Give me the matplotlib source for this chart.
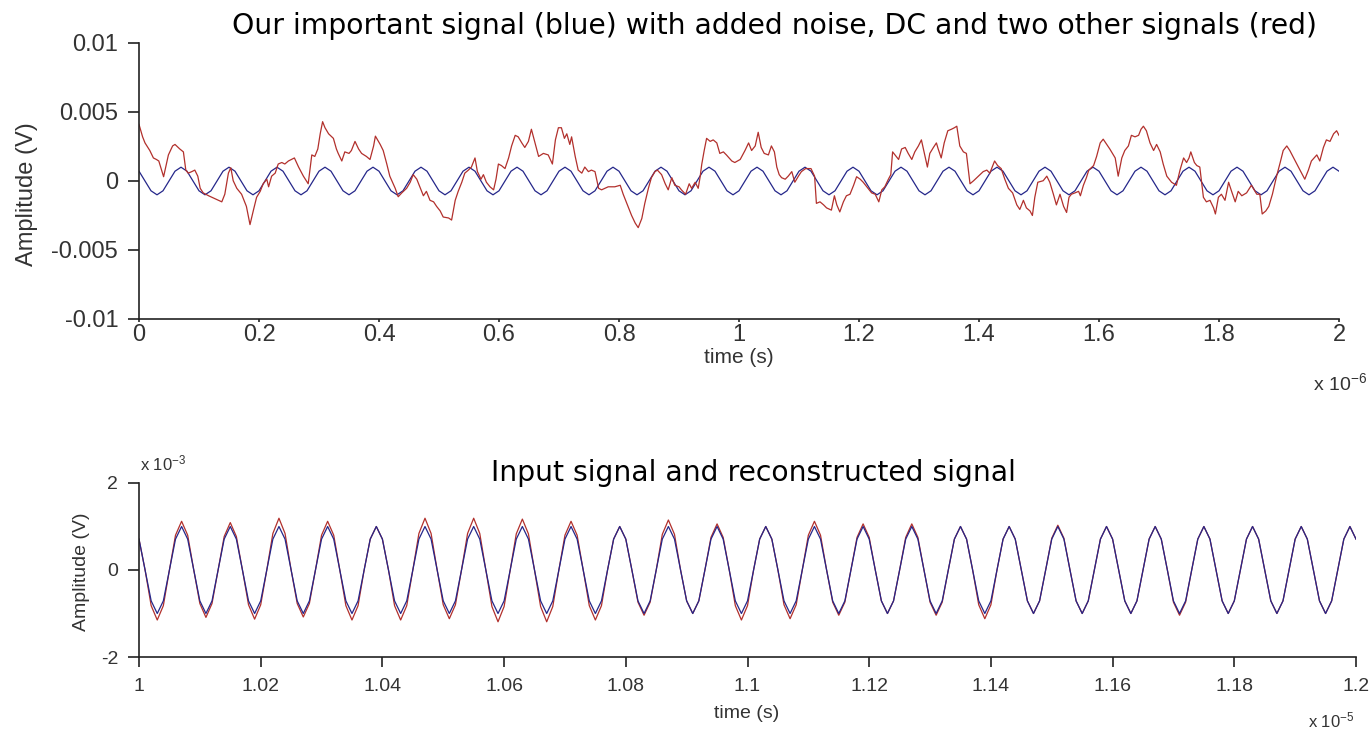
import numpy as np
import matplotlib
matplotlib.use("Agg")
import matplotlib.pyplot as plt

plt.rcParams['axes.unicode_minus'] = False
plt.rcParams['mathtext.default'] = 'regular'

# ---- top plot: time in microseconds, amplitude in mV ----
top_t = np.linspace(0, 2, 201)
top_blue_mv = [
    0.71, 0, -0.71, -1, -0.71, 0, 0.71, 1, 0.71, 0, -0.71, -1, -0.71, 0, 0.71, 1,
    0.71, 0, -0.71, -1, -0.71, 0, 0.71, 1, 0.71, 0, -0.71, -1, -0.71, 0, 0.71, 1,
    0.71, 0, -0.71, -1, -0.71, 0, 0.71, 1, 0.71, 0, -0.71, -1, -0.71, 0, 0.71, 1,
    0.71, 0, -0.71, -1, -0.71, 0, 0.71, 1, 0.71, 0, -0.71, -1, -0.71, 0, 0.71, 1,
    0.71, 0, -0.71, -1, -0.71, 0, 0.71, 1, 0.71, 0, -0.71, -1, -0.71, 0, 0.71, 1,
    0.71, 0, -0.71, -1, -0.71, 0, 0.71, 1, 0.71, 0, -0.71, -1, -0.71, 0, 0.71, 1,
    0.71, 0, -0.71, -1, -0.71, 0, 0.71, 1, 0.71, 0, -0.71, -1, -0.71, 0, 0.71, 1,
    0.71, 0, -0.71, -1, -0.71, 0, 0.71, 1, 0.71, 0, -0.71, -1, -0.71, 0, 0.71, 1,
    0.71, 0, -0.71, -1, -0.71, 0, 0.71, 1, 0.71, 0, -0.71, -1, -0.71, 0, 0.71, 1,
    0.71, 0, -0.71, -1, -0.71, 0, 0.71, 1, 0.71, 0, -0.71, -1, -0.71, 0, 0.71, 1,
    0.71, 0, -0.71, -1, -0.71, 0, 0.71, 1, 0.71, 0, -0.71, -1, -0.71, 0, 0.71, 1,
    0.71, 0, -0.71, -1, -0.71, 0, 0.71, 1, 0.71, 0, -0.71, -1, -0.71, 0, 0.71, 1,
    0.71, 0, -0.71, -1, -0.71, 0, 0.71, 1, 0.71,
]

red_t = [
    0.000, 0.006, 0.010, 0.018, 0.024, 0.029, 0.033, 0.041, 0.049, 0.056,
    0.060, 0.068, 0.074, 0.078, 0.082, 0.088, 0.093, 0.098, 0.102, 0.107,
    0.116, 0.127, 0.138, 0.143, 0.149, 0.153, 0.157, 0.163, 0.171, 0.179,
    0.185, 0.191, 0.196, 0.202, 0.207, 0.213, 0.216, 0.221, 0.227, 0.232,
    0.238, 0.243, 0.249, 0.254, 0.259, 0.266, 0.274, 0.282, 0.288, 0.293,
    0.298, 0.302, 0.306, 0.310, 0.316, 0.324, 0.329,
    0.332, 0.338, 0.343, 0.350, 0.354, 0.360, 0.366, 0.371, 0.379, 0.385,
    0.391, 0.394, 0.402, 0.407, 0.413, 0.418, 0.427, 0.432, 0.438, 0.446,
    0.452, 0.457, 0.463, 0.468, 0.474, 0.479, 0.485, 0.491, 0.496, 0.502,
    0.507, 0.516, 0.521, 0.527, 0.532, 0.538, 0.543, 0.549, 0.554, 0.560,
    0.564, 0.570, 0.574, 0.579, 0.585, 0.591, 0.595, 0.599, 0.604, 0.610,
    0.616, 0.621, 0.627, 0.632, 0.638, 0.643, 0.649, 0.654, 0.660,
    0.666, 0.674, 0.682, 0.689, 0.694, 0.699, 0.704, 0.709, 0.713, 0.718,
    0.721, 0.727, 0.732, 0.738, 0.743, 0.749, 0.754, 0.760, 0.766, 0.771,
    0.782, 0.793, 0.802, 0.807, 0.813, 0.821, 0.827, 0.832, 0.838, 0.843,
    0.849, 0.854, 0.860, 0.864, 0.871, 0.877, 0.882, 0.888, 0.893, 0.900,
    0.904, 0.911, 0.917, 0.921, 0.927, 0.932, 0.935, 0.938, 0.942, 0.946,
    0.952, 0.957, 0.963, 0.968, 0.974, 0.979, 0.988, 0.993,
    1.002, 1.010, 1.016, 1.021, 1.027, 1.032, 1.037, 1.042, 1.049, 1.054,
    1.059, 1.063, 1.067, 1.071, 1.077, 1.082, 1.088, 1.093, 1.099, 1.104,
    1.111, 1.120, 1.126, 1.129, 1.135, 1.141, 1.146, 1.154, 1.159, 1.163,
    1.168, 1.174, 1.179, 1.185, 1.191, 1.196, 1.202, 1.207, 1.213, 1.221,
    1.227, 1.233, 1.238, 1.243, 1.249, 1.253, 1.256, 1.260, 1.266, 1.271,
    1.277, 1.282, 1.288, 1.293, 1.299, 1.304, 1.310, 1.314, 1.318, 1.324,
    1.329,
    1.332, 1.337, 1.342, 1.348, 1.354, 1.359, 1.363, 1.368, 1.374, 1.379,
    1.385, 1.391, 1.399, 1.407, 1.413, 1.418, 1.426, 1.431, 1.437, 1.443,
    1.449, 1.456, 1.463, 1.468, 1.474, 1.479, 1.485, 1.489, 1.493, 1.498,
    1.507, 1.513, 1.518, 1.524, 1.529, 1.535, 1.541, 1.546, 1.550, 1.554,
    1.560, 1.566, 1.569, 1.574, 1.579, 1.583, 1.591, 1.596, 1.602, 1.607,
    1.613, 1.618, 1.627, 1.632, 1.638, 1.643, 1.649, 1.654, 1.660,
    1.666, 1.670, 1.674, 1.679, 1.685, 1.691, 1.696, 1.702, 1.707, 1.713,
    1.721, 1.729, 1.735, 1.741, 1.746, 1.750, 1.753, 1.759, 1.763, 1.768,
    1.774, 1.779, 1.785, 1.791, 1.794, 1.799, 1.804, 1.810, 1.816, 1.821,
    1.827, 1.832, 1.838, 1.846, 1.854, 1.863, 1.868, 1.872, 1.878, 1.883,
    1.889, 1.896, 1.902, 1.907, 1.913, 1.918, 1.927, 1.935, 1.943, 1.949,
    1.954, 1.963, 1.968, 1.974, 1.979, 1.985, 1.991, 1.996, 2.000,
]
red_mv = [
    4.10, 3.20, 2.76, 2.21, 1.67, 1.56, 1.45, 0.31, 1.89, 2.54,
    2.65, 2.32, 2.11, 0.79, 0.57, 0.68, 0.79, 0.35, -0.53, -0.86,
    -1.07, -1.29, -1.51, -0.96, 0.57, 0.96, 0.02, -0.53, -0.96, -1.84,
    -3.16, -2.06, -1.18, -0.75, -0.20, 0.13, -0.42, 0.35, 0.57, 1.23,
    1.34, 1.23, 1.45, 1.56, 1.67, 1.01, 0.35, -0.20, 1.89, 1.78,
    2.32, 3.42, 4.30, 3.86, 3.42, 3.09, 2.32,
    2.00, 1.45, 2.11, 2.00, 2.21, 2.87, 2.32, 2.00, 1.78, 1.56,
    2.54, 3.25, 2.65, 2.21, 1.23, 0.35, -0.53, -1.14, -0.86, -0.53,
    -0.09, 0.46, 0.13, -0.42, -1.07, -0.75, -1.40, -1.51, -1.84, -2.17,
    -2.61, -2.68, -2.83, -1.40, -0.75, -0.09, 0.57, 0.79, 1.01, 1.67,
    0.68, 0.13, 0.46, -0.09, -0.42, -0.64, 0.13, 1.23, 1.12, 0.90,
    1.67, 2.54, 3.31, 3.20, 2.76, 2.43, 2.87, 3.75, 2.76,
    1.78, 2.00, 1.89, 1.23, 2.98, 3.86, 3.86, 3.09, 3.42, 2.65,
    3.20, 1.78, 0.79, 0.57, 1.01, 0.68, 0.79, 0.68, -0.53, -0.64,
    -0.42, -0.42, -0.31, -0.96, -1.62, -2.50, -3.05, -3.38, -2.72, -1.62,
    -0.53, 0.24, 0.68, 0.79, 0.46, -0.20, -0.64, 0.24, -0.31, -0.42,
    -0.64, -0.96, -0.20, -0.53, -0.09, -0.53, 0.24, 1.23, 2.21, 3.09,
    2.87, 2.98, 2.76, 2.00, 2.11, 1.89, 1.45, 1.34,
    1.56, 2.21, 2.76, 2.21, 2.54, 3.53, 2.43, 2.00, 1.89, 2.54,
    2.11, 1.01, 0.46, 0.24, 0.13, 0.35, 0.68, -0.09, 0.35, 0.68,
    0.90, 0.90, 0.35, -1.62, -1.51, -1.73, -1.95, -2.11, -1.07, -1.73,
    -2.24, -1.51, -1.07, -0.96, -0.31, 0.31, 0.13, -0.09, -0.42, -0.86,
    -0.96, -1.51, -0.64, -0.42, 0.13, 0.46, 2.11, 1.89, 1.56, 2.32,
    2.43, 2.00, 1.56, 2.11, 2.54, 2.98, 1.78, 1.01, 2.00, 2.43,
    2.76,
    2.32, 1.67, 2.76, 3.64, 3.75, 3.86, 3.97, 2.54, 2.11, 2.00,
    -0.20, 0.02, 0.35, 0.68, 0.79, 0.57, 1.45, 1.12, 0.90, 0.13,
    -0.53, -0.86, -1.73, -2.06, -1.40, -1.95, -2.17, -2.50, -1.18, -0.09,
    0.02, 0.35, -0.09, -0.96, -1.73, -0.96, -1.84, -2.28, -1.18, -0.96,
    -0.86, -0.75, -1.07, -0.31, 0.24, 0.79, 1.12, 1.78, 2.76, 3.03,
    2.65, 2.32, 1.67, 0.35, 1.67, 2.21, 2.54, 3.31, 3.20,
    3.31, 3.75, 3.97, 3.64, 2.76, 2.21, 2.65, 2.11, 1.23, 0.35,
    -0.09, -0.31, 0.79, 1.67, 1.34, 1.67, 2.11, 1.34, 1.12, 1.01,
    -1.18, -1.51, -1.40, -1.95, -2.39, -1.18, -0.96, -1.40, -0.09, -0.75,
    -1.51, -0.75, -1.07, -0.86, -0.31, -0.96, -0.96, -2.39, -2.17, -1.84,
    -0.96, 0.35, 1.34, 2.21, 2.54, 2.21, 1.45, 0.79, 0.13, 0.79,
    1.45, 1.89, 1.45, 2.43, 2.98, 2.87, 3.42, 3.64, 3.31,
]

# ---- bottom plot: time in units of 1e-5 s, amplitude in units of 1e-3 V ----
bot_t = np.linspace(1.0, 1.2, 201)
bot_blue = [
    0.71, 0, -0.71, -1, -0.71, 0, 0.71, 1, 0.71, 0, -0.71, -1, -0.71, 0, 0.71, 1,
    0.71, 0, -0.71, -1, -0.71, 0, 0.71, 1, 0.71, 0, -0.71, -1, -0.71, 0, 0.71, 1,
    0.71, 0, -0.71, -1, -0.71, 0, 0.71, 1, 0.71, 0, -0.71, -1, -0.71, 0, 0.71, 1,
    0.71, 0, -0.71, -1, -0.71, 0, 0.71, 1, 0.71, 0, -0.71, -1, -0.71, 0, 0.71, 1,
    0.71, 0, -0.71, -1, -0.71, 0, 0.71, 1, 0.71, 0, -0.71, -1, -0.71, 0, 0.71, 1,
    0.71, 0, -0.71, -1, -0.71, 0, 0.71, 1, 0.71, 0, -0.71, -1, -0.71, 0, 0.71, 1,
    0.71, 0, -0.71, -1, -0.71, 0, 0.71, 1, 0.71, 0, -0.71, -1, -0.71, 0, 0.71, 1,
    0.71, 0, -0.71, -1, -0.71, 0, 0.71, 1, 0.71, 0, -0.71, -1, -0.71, 0, 0.71, 1,
    0.71, 0, -0.71, -1, -0.71, 0, 0.71, 1, 0.71, 0, -0.71, -1, -0.71, 0, 0.71, 1,
    0.71, 0, -0.71, -1, -0.71, 0, 0.71, 1, 0.71, 0, -0.71, -1, -0.71, 0, 0.71, 1,
    0.71, 0, -0.71, -1, -0.71, 0, 0.71, 1, 0.71, 0, -0.71, -1, -0.71, 0, 0.71, 1,
    0.71, 0, -0.71, -1, -0.71, 0, 0.71, 1, 0.71, 0, -0.71, -1, -0.71, 0, 0.71, 1,
    0.71, 0, -0.71, -1, -0.71, 0, 0.71, 1, 0.71,
]
bot_red = [
    0.71,
    0, -0.82, -1.15, -0.82, 0, 0.80, 1.12, 0.80,
    0, -0.77, -1.09, -0.77, 0, 0.77, 1.09, 0.77,
    0, -0.80, -1.13, -0.80, 0, 0.84, 1.19, 0.84,
    0, -0.77, -1.08, -0.77, 0, 0.80, 1.12, 0.80,
    0, -0.82, -1.15, -0.82, 0, 0.71, 1.00, 0.71,
    0, -0.82, -1.15, -0.82, 0, 0.84, 1.19, 0.84,
    0, -0.80, -1.12, -0.80, 0, 0.84, 1.19, 0.84,
    0, -0.84, -1.19, -0.84, 0, 0.83, 1.17, 0.83,
    0, -0.84, -1.19, -0.84, 0, 0.80, 1.12, 0.80,
    0, -0.82, -1.15, -0.82, 0, 0.71, 1.00, 0.71,
    0, -0.74, -1.04, -0.74, 0, 0.82, 1.15, 0.82,
    0, -0.71, -1.00, -0.71, 0, 0.75, 1.06, 0.75,
    0, -0.82, -1.15, -0.82, 0, 0.71, 1.00, 0.71,
    0, -0.80, -1.12, -0.80, 0, 0.80, 1.12, 0.80,
    0, -0.74, -1.04, -0.74, 0, 0.75, 1.06, 0.75,
    0, -0.71, -1.00, -0.71, 0, 0.75, 1.06, 0.75,
    0, -0.74, -1.04, -0.74, 0, 0.71, 1.00, 0.71,
    0, -0.80, -1.12, -0.80, 0, 0.71, 1.00, 0.71,
    0, -0.71, -1.00, -0.71, 0, 0.73, 1.03, 0.73,
    0, -0.71, -1.00, -0.71, 0, 0.71, 1.00, 0.71,
    0, -0.71, -1.00, -0.71, 0, 0.71, 1.00, 0.71,
    0, -0.74, -1.04, -0.74, 0, 0.71, 1.00, 0.71,
    0, -0.71, -1.00, -0.71, 0, 0.71, 1.00, 0.71,
    0, -0.71, -1.00, -0.71, 0, 0.71, 1.00, 0.71,
    0, -0.71, -1.00, -0.71, 0, 0.71, 1.00, 0.71,
]

top_xticks = [0, 0.2, 0.4, 0.6, 0.8, 1, 1.2, 1.4, 1.6, 1.8, 2]
top_xlabels = ['0', '0.2', '0.4', '0.6', '0.8', '1', '1.2', '1.4', '1.6', '1.8', '2']
top_yticks = [-0.01, -0.005, 0, 0.005, 0.01]
top_ylabels = ['-0.01', '-0.005', '0', '0.005', '0.01']
bot_xticks = [1, 1.02, 1.04, 1.06, 1.08, 1.1, 1.12, 1.14, 1.16, 1.18, 1.2]
bot_xlabels = ['1', '1.02', '1.04', '1.06', '1.08', '1.1', '1.12', '1.14', '1.16', '1.18', '1.2']
bot_yticks = [-2, 0, 2]
bot_ylabels = ['-2', '0', '2']

BLUE = '#25278a'
RED = '#b2302c'
AXC = '#222222'
TXT = '#333333'
tick_font = 'Liberation Sans'
title_font = 'DejaVu Sans'

W, H = 1371, 735
fig = plt.figure(figsize=(W / 100, H / 100), dpi=100)


def style_axes(ax, fs, xlen, xpad):
    for s in ['top', 'right']:
        ax.spines[s].set_visible(False)
    for s in ['left', 'bottom']:
        ax.spines[s].set_color(AXC)
        ax.spines[s].set_linewidth(1.2)
    ax.tick_params(direction='out', width=1.2, color=AXC,
                   labelcolor=TXT, labelsize=fs)
    ax.tick_params(axis='y', length=8, pad=7)
    ax.tick_params(axis='x', length=xlen, pad=xpad)
    for lab in ax.get_xticklabels() + ax.get_yticklabels():
        lab.set_family(tick_font)


# top axes
ax1 = fig.add_axes([139 / W, 1 - 319 / H, 1200 / W, 276 / H])
ax1.plot(top_t, np.array(top_blue_mv) / 1000, color=BLUE, lw=0.9)
ax1.plot(red_t, np.array(red_mv) / 1000, color=RED, lw=0.9)
ax1.set_xlim(0, 2)
ax1.set_ylim(-0.01, 0.01)
ax1.set_xticks(top_xticks)
ax1.set_xticklabels(top_xlabels)
ax1.set_yticks(top_yticks)
ax1.set_yticklabels(top_ylabels)
style_axes(ax1, 17, 2, 1.5)

# bottom axes
ax2 = fig.add_axes([139 / W, 1 - 657 / H, 1217 / W, 174 / H])
ax2.plot(bot_t, bot_red, color=RED, lw=0.9)
ax2.plot(bot_t, bot_blue, color=BLUE, lw=0.9)
ax2.set_xlim(1.0, 1.2)
ax2.set_ylim(-2, 2)
ax2.set_xticks(bot_xticks)
ax2.set_xticklabels(bot_xlabels)
ax2.set_yticks(bot_yticks)
ax2.set_yticklabels(bot_ylabels)
style_axes(ax2, 14, 7, 8)

# titles and labels
fig.text(774 / W, 1 - 26 / H, 'Our important signal (blue) with added noise, DC and two other signals (red)',
         family=title_font, fontsize=20.3, color='black', ha='center', va='center')
fig.text(753 / W, 1 - 473 / H, 'Input signal and reconstructed signal',
         family=title_font, fontsize=20.3, color='black', ha='center', va='center')
fig.text(27 / W, 1 - 194 / H, 'Amplitude (V)', family=tick_font, fontsize=17,
         color=TXT, rotation=90, ha='center', va='center')
fig.text(82 / W, 1 - 572 / H, 'Amplitude (V)', family=tick_font, fontsize=14,
         color=TXT, rotation=90, ha='center', va='center')
fig.text(739 / W, 1 - 358 / H, 'time (s)', family=tick_font, fontsize=15,
         color=TXT, ha='center', va='center')
fig.text(747 / W, 1 - 713 / H, 'time (s)', family=tick_font, fontsize=14,
         color=TXT, ha='center', va='center')
fig.text(1313 / W, 1 - 383 / H, r'x 10$^{-6}$', family=tick_font, fontsize=14,
         color=TXT, ha='left', va='center')
fig.text(1308 / W, 1 - 720 / H, r'x 10$^{-5}$', family=tick_font, fontsize=12,
         color=TXT, ha='left', va='center')
fig.text(140 / W, 1 - 463 / H, r'x 10$^{-3}$', family=tick_font, fontsize=12,
         color=TXT, ha='left', va='center')

fig.savefig('out.png', dpi=100, facecolor='white')
